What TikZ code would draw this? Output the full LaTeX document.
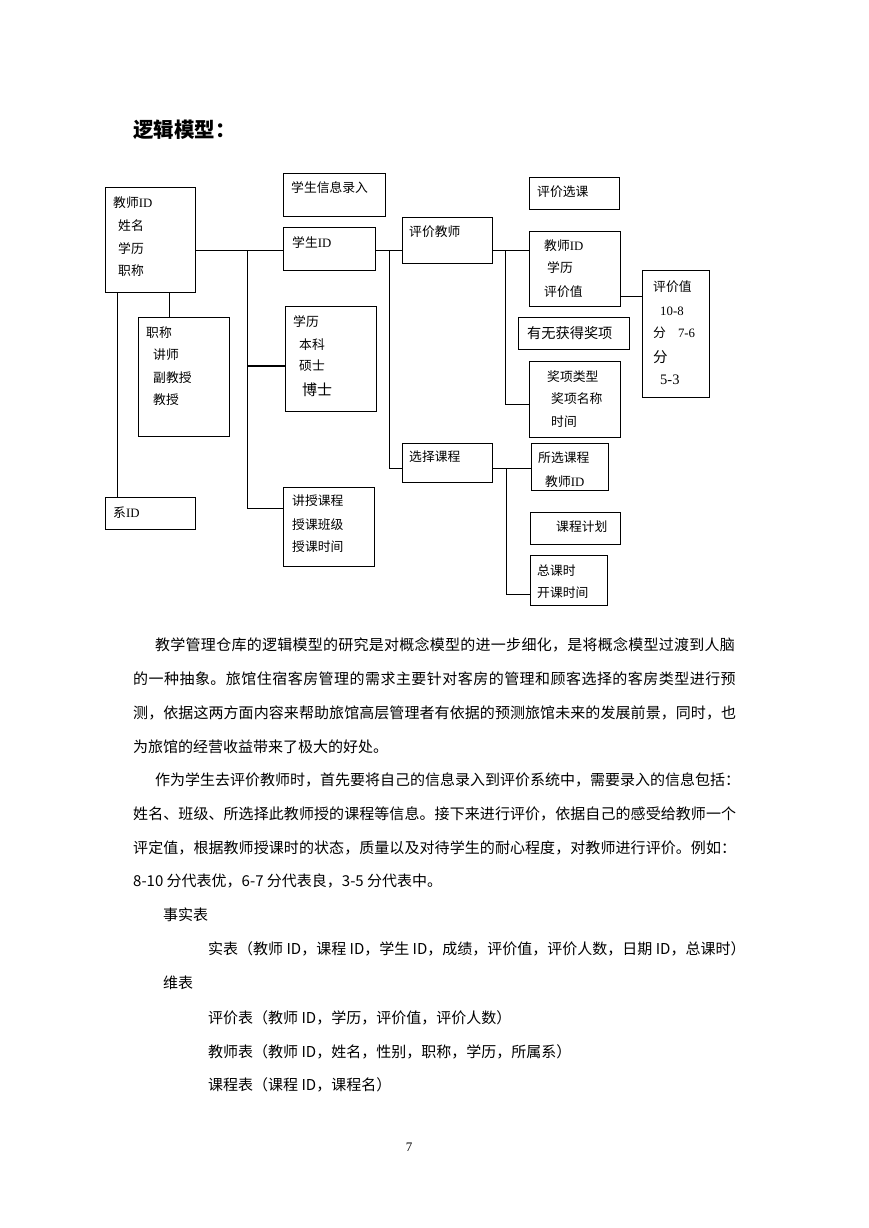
\documentclass[tikz,border=0pt]{standalone}
\usepackage{fontspec}
\setmainfont{Liberation Serif}
\newfontfamily\cjk{Noto Sans CJK SC}
\newcommand\id{{\rmfamily ID}}
\makeatletter
\def\spread#1{\spr@#1\spr@end}
\def\spr@end{\spr@end}
\def\spr@#1{\ifx#1\spr@end\else#1\hfil\expandafter\spr@\fi}
\makeatother
\tikzset{
  box/.style={draw, line width=1pt, inner sep=0, anchor=north west},
  lbl/.style={anchor=west, inner sep=0, font=\cjk\fontsize{12.8}{14}\selectfont},
  body/.style={anchor=west, inner sep=0, font=\cjk\fontsize{15}{17}\selectfont},
  ln/.style={line width=1pt},
}
\begin{document}
\begin{tikzpicture}[x=1pt,y=-1pt]
\useasboundingbox[fill=white] (0,0) rectangle (869,1228);

% title
\node[anchor=west, inner sep=0, font=\cjk\bfseries\fontsize{20.5}{24}\selectfont] (title) at (133,130) {逻辑模型：};

% boxes
\node[box, minimum width=90, minimum height=105] (t1) at (105,187) {};
\node[box, minimum width=102, minimum height=43] (info) at (283,173) {};
\node[box, minimum width=92, minimum height=43] (sid) at (283,227) {};
\node[box, minimum width=91, minimum height=119] (zc) at (138,317) {};
\node[box, minimum width=90, minimum height=32] (dept) at (105,497) {};
\node[box, minimum width=91, minimum height=105] (xl) at (285,306) {};
\node[box, minimum width=91, minimum height=79] (jk) at (283,487) {};
\node[box, minimum width=90, minimum height=46] (pjjs) at (402,217) {};
\node[box, minimum width=90, minimum height=32] (pjxk) at (529,177) {};
\node[box, minimum width=91, minimum height=75] (t2) at (529,231) {};
\node[box, minimum width=67, minimum height=127] (pjz) at (642,270) {};
\node[box, minimum width=111, minimum height=32] (award) at (518,317) {};
\node[box, minimum width=91, minimum height=76] (awtype) at (529,361) {};
\node[box, minimum width=90, minimum height=39] (xzkc) at (402,443) {};
\node[box, minimum width=77, minimum height=47] (sxkc) at (531,443) {};
\node[box, minimum width=90, minimum height=32] (kcjh) at (530,512) {};
\node[box, minimum width=77, minimum height=50] (zks) at (530,555) {};

% box texts
\node[lbl] (t1a) at (113,203) {教师\id};
\node[lbl] (t1b) at (118,226) {姓名};
\node[lbl] (t1c) at (118,249) {学历};
\node[lbl] (t1d) at (118,271) {职称};
\node[lbl] (infoa) at (291,188) {学生信息录入};
\node[lbl] (sida) at (292,243) {学生\id};
\node[lbl] (zca) at (146,333) {职称};
\node[lbl] (zcb) at (153,355) {讲师};
\node[lbl] (zcc) at (153,378) {副教授};
\node[lbl] (zcd) at (153,400) {教授};
\node[lbl] (depta) at (113,513) {系\id};
\node[lbl] (xla) at (293,322) {学历};
\node[lbl] (xlb) at (299,345) {本科};
\node[lbl] (xlc) at (299,366) {硕士};
\node[lbl, font=\cjk\fontsize{15}{17}\selectfont] (xld) at (302,390) {博士};
\node[lbl] (jka) at (292,501) {讲授课程};
\node[lbl] (jkb) at (292,525) {授课班级};
\node[lbl] (jkc) at (292,547) {授课时间};
\node[lbl] (pjjsa) at (409,232) {评价教师};
\node[lbl] (pjxka) at (537,192) {评价选课};
\node[lbl] (t2a) at (544,246) {教师\id};
\node[lbl] (t2b) at (547,268) {学历};
\node[lbl] (t2c) at (544,292) {评价值};
\node[lbl] (pjza) at (653,287) {评价值};
\node[lbl] (pjzb) at (660,311) {\rmfamily 10-8};
\node[lbl] (pjzc) at (653,333) {分\hspace{12pt}\rmfamily 7-6};
\node[lbl, font=\cjk\fontsize{14.5}{16}\selectfont] (pjzd) at (653,357) {分};
\node[lbl, font=\rmfamily\fontsize{14.5}{16}\selectfont] (pjze) at (660,380) {5-3};
\node[lbl, font=\cjk\fontsize{14.2}{16}\selectfont] (awarda) at (527,333) {有无获得奖项};
\node[lbl] (awtypea) at (547,377) {奖项类型};
\node[lbl] (awtypeb) at (551,399) {奖项名称};
\node[lbl] (awtypec) at (551,422) {时间};
\node[lbl] (xzkca) at (409,457) {选择课程};
\node[lbl] (sxkca) at (538,458) {所选课程};
\node[lbl] (sxkcb) at (545,482) {教师\id};
\node[lbl] (kcjha) at (556,527) {课程计划};
\node[lbl] (zksa) at (537,571) {总课时};
\node[lbl] (zksb) at (537,593) {开课时间};

% connectors
\coordinate (j1) at (247,250);
\coordinate (j1m) at (247,366);
\coordinate (j1b) at (247,508);
\draw[ln] (t1.east |- j1) -- (sid.west |- j1);
\draw[ln] (j1) -- (j1b) -- (jk.west |- j1b);
\draw[line width=2pt] (j1m) -- (xl.west |- j1m);
\coordinate (c1) at (169,0);
\coordinate (c2) at (117,0);
\draw[ln] (t1.south -| c1) -- (zc.north -| c1);
\draw[ln] (t1.south -| c2) -- (dept.north -| c2);
\coordinate (j2) at (389,250);
\coordinate (j2b) at (389,468);
\draw[ln] (sid.east |- j2) -- (pjjs.west |- j2);
\draw[ln] (j2) -- (j2b) -- (xzkc.west |- j2b);
\coordinate (j3) at (505,250);
\coordinate (j3b) at (505,404);
\draw[ln] (pjjs.east |- j3) -- (t2.west |- j3);
\draw[ln] (j3) -- (j3b) -- (awtype.west |- j3b);
\coordinate (j5) at (0,296);
\draw[ln] (t2.east |- j5) -- (pjz.west |- j5);
\coordinate (j4) at (506,468);
\coordinate (j4b) at (506,594);
\draw[ln] (xzkc.east |- j4) -- (sxkc.west |- j4);
\draw[ln] (j4) -- (j4b) -- (zks.west |- j4b);

% body text
\node[body] (p1) at (155,645) {\hbox to 580pt{\spread{教学管理仓库的逻辑模型的研究是对概念模型的进一步细化，是将概念模型过渡到人脑}}};
\node[body] (p2) at (133,679) {\hbox to 603pt{\spread{的一种抽象。旅馆住宿客房管理的需求主要针对客房的管理和顾客选择的客房类型进行预}}};
\node[body] (p3) at (133,713) {\hbox to 603pt{\spread{测，依据这两方面内容来帮助旅馆高层管理者有依据的预测旅馆未来的发展前景，同时，也}}};
\node[body] (p4) at (133,747) {为旅馆的经营收益带来了极大的好处。};
\node[body] (p5) at (155,780) {\hbox to 582pt{\spread{作为学生去评价教师时，首先要将自己的信息录入到评价系统中，需要录入的信息包括：}}};
\node[body] (p6) at (133,814) {\hbox to 603pt{\spread{姓名、班级、所选择此教师授的课程等信息。接下来进行评价，依据自己的感受给教师一个}}};
\node[body] (p7) at (133,848) {\hbox to 603pt{\spread{评定值，根据教师授课时的状态，质量以及对待学生的耐心程度，对教师进行评价。例如：}}};
\node[body] (p8) at (133,881) {8-10 分代表优，6-7 分代表良，3-5 分代表中。};
\node[body] (p9) at (163,915) {事实表};
\node[body] (p10) at (208,949) {实表（教师 ID，课程 ID，学生 ID，成绩，评价值，评价人数，日期 ID，总课时）};
\node[body] (p11) at (163,983) {维表};
\node[body] (p12) at (208,1018) {评价表（教师 ID，学历，评价值，评价人数）};
\node[body] (p13) at (208,1052) {教师表（教师 ID，姓名，性别，职称，学历，所属系）};
\node[body] (p14) at (208,1085) {课程表（课程 ID，课程名）};

\node[inner sep=0, font=\rmfamily\fontsize{13}{15}\selectfont] (pg) at (409,1147) {7};
\end{tikzpicture}
\end{document}
